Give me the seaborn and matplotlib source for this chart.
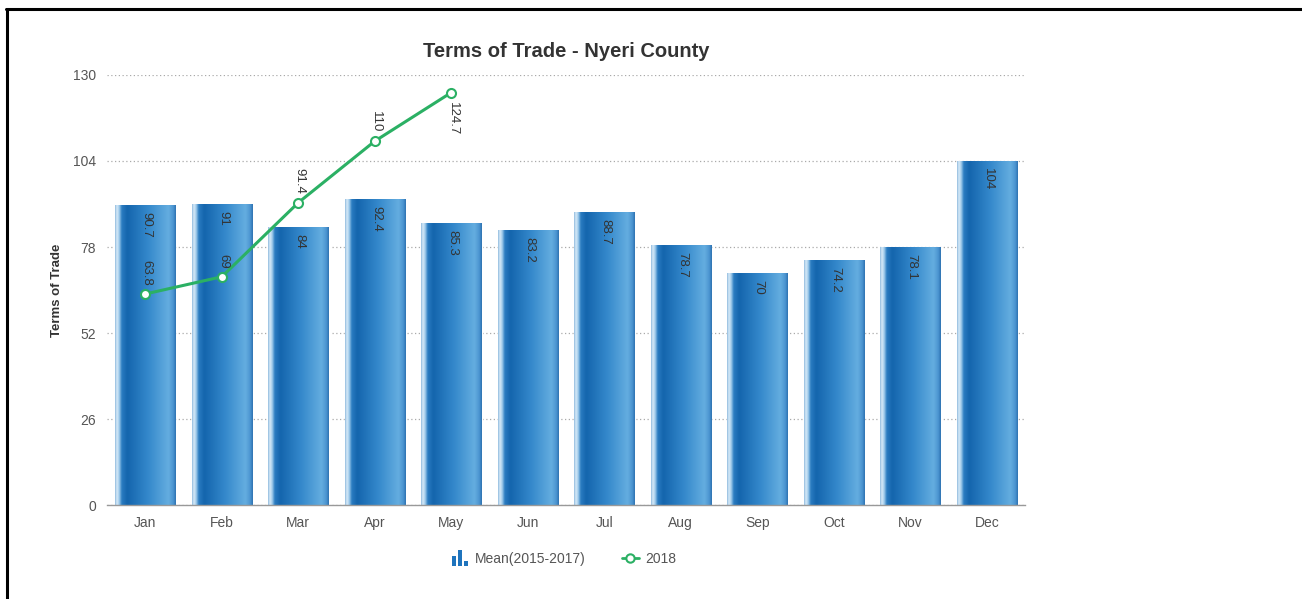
import numpy as np
import pandas as pd
import matplotlib
matplotlib.use("Agg")
import matplotlib.pyplot as plt
import seaborn as sns
from matplotlib.colors import LinearSegmentedColormap
from matplotlib.path import Path
from matplotlib.lines import Line2D

# Data
months = ["Jan", "Feb", "Mar", "Apr", "May", "Jun", "Jul", "Aug", "Sep", "Oct", "Nov", "Dec"]
mean_2015_2017 = [90.7, 91, 84, 92.4, 85.3, 83.2, 88.7, 78.7, 70, 74.2, 78.1, 104]
months_2018 = ["Jan", "Feb", "Mar", "Apr", "May"]
values_2018 = [63.8, 69, 91.4, 110, 124.7]
y_ticks = [0, 26, 52, 78, 104, 130]

sns.set_theme(style="white")
plt.rcParams["font.family"] = ["Liberation Sans", "DejaVu Sans"]

GREEN = "#2bb064"
TEXT = "#555555"

fig = plt.figure(figsize=(13.02, 5.99), dpi=100)
ax = fig.add_axes([0.0822, 0.1569, 0.7051, 0.7179])

df = pd.DataFrame({"month": months, "mean": mean_2015_2017})
sns.barplot(data=df, x="month", y="mean", order=months, color="#1f6fb5",
            saturation=1, width=0.79, ax=ax, zorder=2)

# Cylinder-like horizontal shading for each bar
shade = LinearSegmentedColormap.from_list("bar_shade", [
    (0.00, "#8bb8dc"), (0.03, "#dcedf9"), (0.07, "#9cc8ea"),
    (0.11, "#2a7cc1"), (0.20, "#1465ad"), (0.55, "#3589cc"),
    (0.88, "#64ade0"), (0.96, "#4b94d0"), (1.00, "#2d71b0"),
])
grad = np.linspace(0, 1, 256).reshape(1, -1)
for patch in ax.patches:
    x0 = patch.get_x()
    w = patch.get_width()
    h = patch.get_height()
    im = ax.imshow(grad, cmap=shade, aspect="auto", extent=(x0, x0 + w, 0, h),
                   zorder=2.5, interpolation="bicubic")
    im.set_clip_path(patch)

# 2018 series
x_2018 = [months.index(m) for m in months_2018]
sns.lineplot(x=x_2018, y=values_2018, color=GREEN, lw=2.2, marker="o",
             markersize=6.5, markerfacecolor="white", markeredgecolor=GREEN,
             markeredgewidth=1.5, ax=ax, zorder=4)

# Value labels on bars
for i, v in enumerate(mean_2015_2017):
    ax.annotate(f"{v:g}", (i, v), xytext=(1, -5), textcoords="offset points",
                rotation=-90, ha="center", va="top", fontsize=9.5,
                color="#333333", zorder=5)

# Value labels on the line
for x, v in zip(x_2018, values_2018):
    if v > 120:
        ax.annotate(f"{v:g}", (x, v), xytext=(1, -7), textcoords="offset points",
                    rotation=-90, ha="center", va="top", fontsize=9.5,
                    color="#333333", zorder=5)
    else:
        ax.annotate(f"{v:g}", (x, v), xytext=(1, 6), textcoords="offset points",
                    rotation=-90, ha="center", va="bottom", fontsize=9.5,
                    color="#333333", zorder=5)

ax.set_xlim(-0.5, len(months) - 0.5)
ax.set_ylim(0, 130)
ax.set_yticks(y_ticks)
ax.set_yticklabels([str(t) for t in y_ticks])
ax.grid(axis="y", color="#aaaaaa", linestyle=(0, (1, 2)), linewidth=0.9)
ax.grid(axis="x", visible=False)
ax.set_axisbelow(True)
for s in ["top", "right", "left"]:
    ax.spines[s].set_visible(False)
ax.spines["bottom"].set_color("#999999")
ax.spines["bottom"].set_linewidth(1.0)
ax.tick_params(axis="both", length=0, labelsize=10, labelcolor=TEXT)
ax.tick_params(axis="y", pad=8)
ax.tick_params(axis="x", pad=8)
ax.set_xlabel("")
ax.set_ylabel("Terms of Trade", fontsize=9.5, fontweight="bold", color="#333333", labelpad=7)
ax.set_title("Terms of Trade - Nyeri County", fontsize=14.5, fontweight="bold",
             color="#333333", pad=13)

# Legend
bar_icon = Path([(-1, -1), (-1, 0.2), (-0.5, 0.2), (-0.5, -1), (-1, -1),
                 (-0.25, -1), (-0.25, 1), (0.25, 1), (0.25, -1), (-0.25, -1),
                 (0.5, -1), (0.5, -0.4), (1, -0.4), (1, -1), (0.5, -1)],
                [Path.MOVETO, Path.LINETO, Path.LINETO, Path.LINETO, Path.CLOSEPOLY,
                 Path.MOVETO, Path.LINETO, Path.LINETO, Path.LINETO, Path.CLOSEPOLY,
                 Path.MOVETO, Path.LINETO, Path.LINETO, Path.LINETO, Path.CLOSEPOLY])
handles = [
    Line2D([], [], linestyle="none", marker=bar_icon, markersize=11,
           color="#1f74bd", markeredgewidth=0),
    Line2D([], [], color=GREEN, lw=2, marker="o", markersize=6,
           markerfacecolor="white", markeredgecolor=GREEN, markeredgewidth=1.5),
]
leg = fig.legend(handles, ["Mean(2015-2017)", "2018"], loc="center",
                 bbox_to_anchor=(564 / 1302, 1 - 559 / 599), ncol=2, frameon=False,
                 fontsize=10, handlelength=1.2, handletextpad=0.5, columnspacing=2.6)
for t in leg.get_texts():
    t.set_color(TEXT)

# Frame lines along the top and left edges
W, H = 1302, 599
fig.add_artist(Line2D([6 / W, 1], [1 - 9 / H, 1 - 9 / H], color="black", lw=2.2,
                      transform=fig.transFigure))
fig.add_artist(Line2D([7 / W, 7 / W], [0, 1 - 9 / H], color="black", lw=2.2,
                      transform=fig.transFigure))

fig.savefig("out.png", dpi=100, facecolor="white")
